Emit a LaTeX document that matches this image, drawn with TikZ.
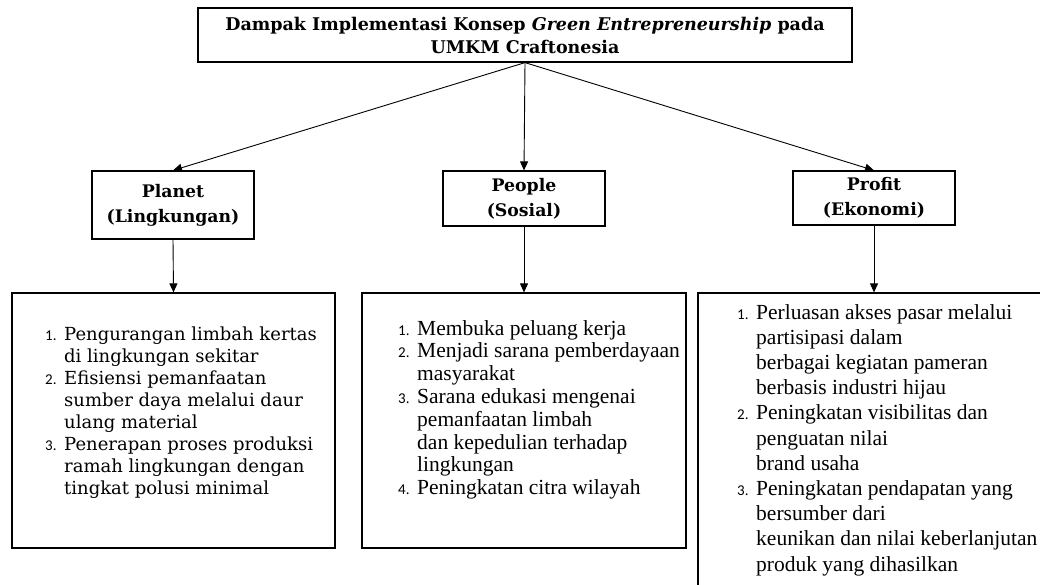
\documentclass[tikz,border=0pt]{standalone}
\usepackage{fontspec}
\setmainfont{Liberation Serif}
\newfontfamily\camb{DejaVu Serif}
\newfontfamily\numf{Carlito}
\usetikzlibrary{arrows.meta}
\newcommand{\itm}[1]{\makebox[19pt][l]{\numf\fontsize{15}{15}\selectfont #1}}
\newcommand{\ind}{\hspace*{19pt}}
\tikzset{
  box/.style={draw, line width=1.2pt, inner sep=0pt},
  arr/.style={draw, line width=0.9pt, -{Triangle[length=9pt,width=8pt]}},
  hdr/.style={box, align=center, font=\camb\bfseries\fontsize{17.5}{23}\selectfont},
  cat/.style={box, minimum width=162pt, align=center, font=\camb\bfseries\fontsize{17.3}{25}\selectfont},
  listc/.style={anchor=north west, inner sep=0pt, align=left, font=\camb\fontsize{18}{22}\selectfont},
  listt/.style={anchor=north west, inner sep=0pt, align=left, font=\fontsize{21.5}{22.8}\selectfont},
}
\begin{document}
\begin{tikzpicture}[x=1pt, y=-1pt]
\useasboundingbox (0,0) rectangle (1040,585);
% title
\node[hdr, minimum width=654pt, minimum height=54pt] (title) at (525,35)
  {Dampak Implementasi Konsep \textit{Green Entrepreneurship} pada\\UMKM Craftonesia};
% categories
\node[cat, minimum height=68pt] (planet) at (173,205) {Planet\\(Lingkungan)};
\node[cat, minimum height=55pt] (people) at (524,198.5) {People\\(Sosial)};
\node[cat, minimum height=54pt] (profit) at (874,198) {Profit\\(Ekonomi)};
% detail boxes
\node[box, minimum width=323pt, minimum height=255pt] (planetd) at (173.5,420.5) {};
\node[box, minimum width=324pt, minimum height=255pt] (peopled) at (524,420.5) {};
\node[box, minimum width=352pt, minimum height=307pt] (profitd) at (874,446.5) {};
% lists
\node[listc] (planetl) at (45,327) {%
\itm{1.}Pengurangan limbah kertas\\
\ind di lingkungan sekitar\\
\itm{2.}Efisiensi pemanfaatan\\
\ind sumber daya melalui daur\\
\ind ulang material\\
\itm{3.}Penerapan proses produksi\\
\ind ramah lingkungan dengan\\
\ind tingkat polusi minimal};
\node[listt] (peoplel) at (398,320) {%
\itm{1.}Membuka peluang kerja\\
\itm{2.}Menjadi sarana pemberdayaan\\
\ind masyarakat\\
\itm{3.}Sarana edukasi mengenai\\
\ind pemanfaatan limbah\\
\ind dan kepedulian terhadap\\
\ind lingkungan\\
\itm{4.}Peningkatan citra wilayah};
\node[listt, font=\fontsize{21.5}{25.2}\selectfont] (profitl) at (737,304) {%
\itm{1.}Perluasan akses pasar melalui\\
\ind partisipasi dalam\\
\ind berbagai kegiatan pameran\\
\ind berbasis industri hijau\\
\itm{2.}Peningkatan visibilitas dan\\
\ind penguatan nilai\\
\ind brand usaha\\
\itm{3.}Peningkatan pendapatan yang\\
\ind bersumber dari\\
\ind keunikan dan nilai keberlanjutan\\
\ind produk yang dihasilkan};
% connectors
\draw[arr] (title.south) -- (planet.north);
\draw[arr] (title.south) -- (people.north);
\draw[arr] (title.south) -- (profit.north);
\draw[arr] (planet.south) -- (planetd.north);
\draw[arr] (people.south) -- (peopled.north);
\draw[arr] (profit.south) -- (profitd.north);
\end{tikzpicture}
\end{document}
